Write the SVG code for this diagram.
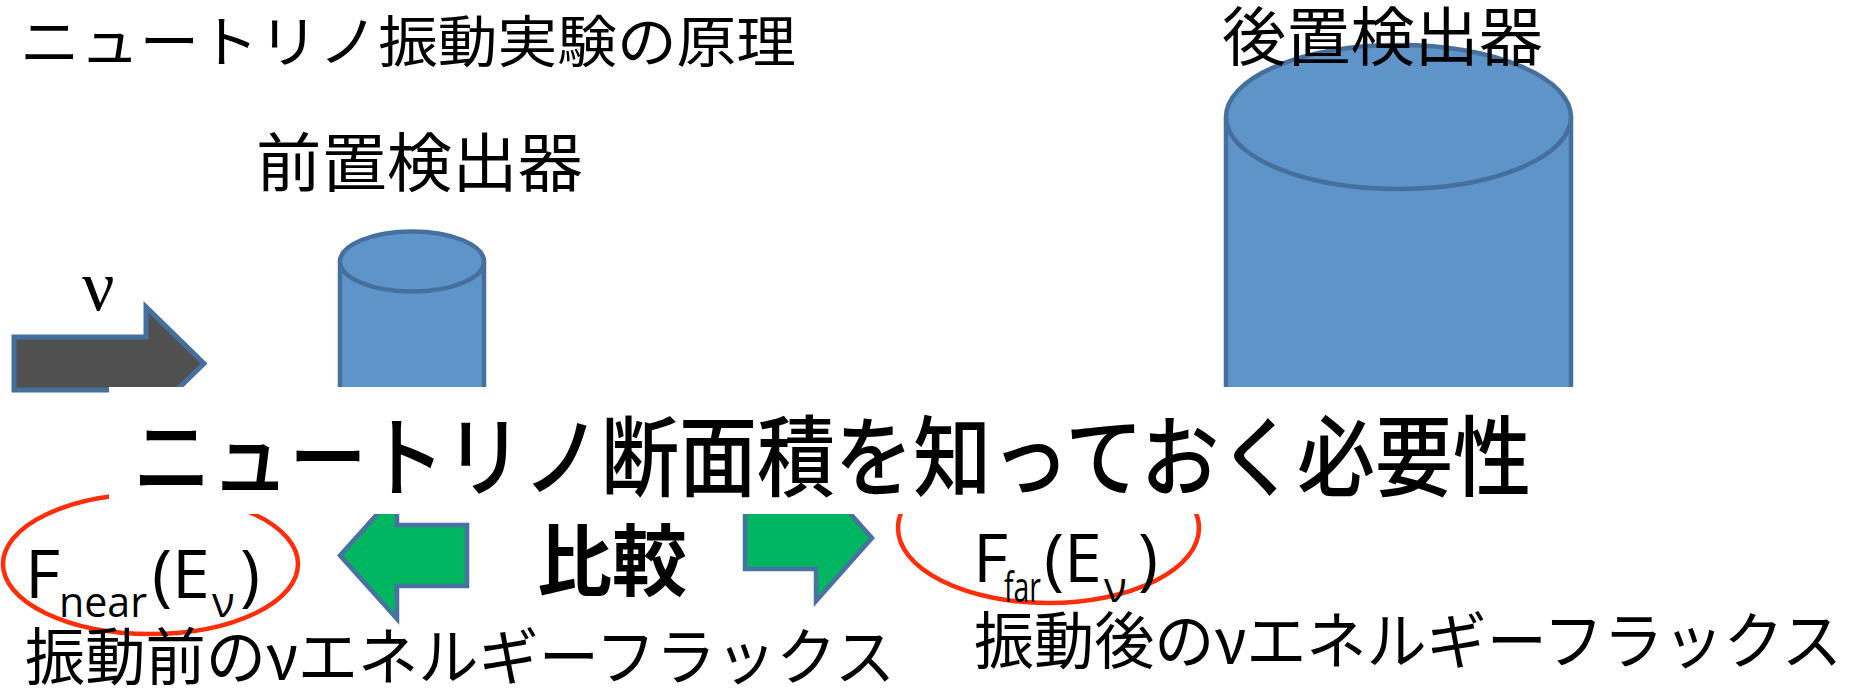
<svg xmlns="http://www.w3.org/2000/svg" width="1867" height="690" viewBox="0 0 1867 690">
<defs>
<style>
.jp{font-family:"Noto Sans CJK JP","Noto Sans CJK SC",sans-serif;fill:#000}
.lat{font-family:"Open Sans","Liberation Sans",sans-serif;fill:#000}
.cyl{fill:#5F94C8;stroke:#45709E;stroke-width:4.5}
.garrow{fill:#00B660;stroke:#4A72A0;stroke-width:4.5;stroke-linejoin:miter}
.ring{fill:none;stroke:#FF2E0A;stroke-width:4.5}
</style>
</defs>
<rect width="1867" height="690" fill="#fff"/>

<g id="title">
<text class="jp" x="20" y="62" font-size="56" textLength="776" lengthAdjust="spacingAndGlyphs">ニュートリノ振動実験の原理</text>
</g>

<g id="near-detector">
<path class="cyl" d="M340,261.5 V400 H484 V261.5"/>
<ellipse class="cyl" cx="412" cy="261.5" rx="72" ry="30"/>
<text class="jp" x="256" y="186" font-size="64" textLength="327" lengthAdjust="spacingAndGlyphs">前置検出器</text>
</g>

<g id="far-detector">
<path class="cyl" d="M1226,117 V400 H1571 V117"/>
<ellipse class="cyl" cx="1398.5" cy="117" rx="172.5" ry="72"/>
<text class="jp" x="1222" y="60" font-size="64" textLength="321" lengthAdjust="spacingAndGlyphs">後置検出器</text>
</g>

<g id="neutrino-beam">
<polygon points="14,337 146,337 146,307 204,363.5 146,420 146,390 14,390" fill="#505050" stroke="#45709E" stroke-width="5"/>
<text x="82" y="310" font-family="Liberation Serif,serif" font-size="72" fill="#000">ν</text>
</g>

<g id="near-flux-ring">
<ellipse class="ring" cx="150.5" cy="564" rx="147.5" ry="70"/>
</g>
<g id="far-flux-ring">
<ellipse class="ring" cx="1048.5" cy="528" rx="150.5" ry="75"/>
</g>

<g id="compare-arrows">
<polygon class="garrow" points="340,555.5 397,492 397,525 467,525 467,586 397,586 397,619"/>
<polygon class="garrow" points="872,538 816,475 816,507 745,507 745,569 816,569 816,601"/>
</g>

<g id="cross-section-note">
<rect x="109" y="387" width="1500" height="127" fill="#fff"/>
<text class="jp" x="133" y="489" font-size="88" font-weight="500" textLength="1398" lengthAdjust="spacingAndGlyphs">ニュートリノ断面積を知っておく必要性</text>
</g>

<g id="compare-label">
<text class="jp" x="537" y="590" font-size="78" font-weight="bold" textLength="150" lengthAdjust="spacingAndGlyphs">比較</text>
</g>

<g id="near-flux">
<text class="lat" x="25" y="598" font-size="68">F</text>
<text class="lat" x="59" y="617" font-size="42" textLength="88" lengthAdjust="spacingAndGlyphs">near</text>
<text class="lat" x="152" y="598" font-size="68">(E</text>
<text class="lat" x="212" y="617" font-size="42">ν</text>
<text class="lat" x="240" y="598" font-size="68">)</text>
<text class="jp" x="25" y="680" font-size="62" textLength="870" lengthAdjust="spacingAndGlyphs">振動前のνエネルギーフラックス</text>
</g>

<g id="far-flux">
<text class="lat" x="973" y="582" font-size="68">F</text>
<text class="lat" x="1004" y="602" font-size="42" textLength="37" lengthAdjust="spacingAndGlyphs">far</text>
<text class="lat" x="1044" y="582" font-size="68">(E</text>
<text class="lat" x="1104" y="602" font-size="42">ν</text>
<text class="lat" x="1138" y="582" font-size="68">)</text>
<text class="jp" x="974" y="664" font-size="62" textLength="868" lengthAdjust="spacingAndGlyphs">振動後のνエネルギーフラックス</text>
</g>
</svg>
